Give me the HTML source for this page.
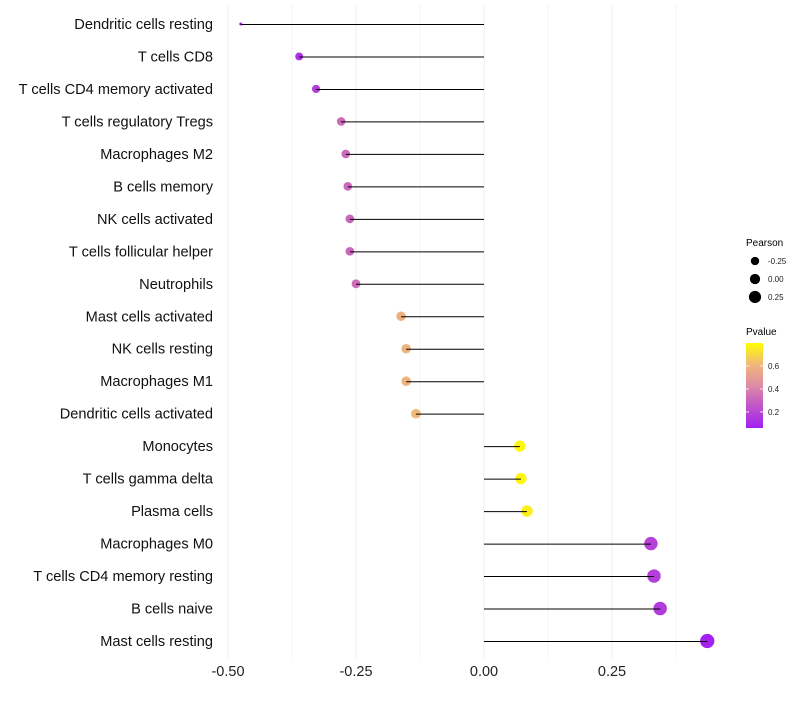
<!DOCTYPE html>
<html><head><meta charset="utf-8"><style>
body{margin:0;background:#fff;font-family:"Liberation Sans",sans-serif;}
</style></head><body>
<svg id="c" width="800" height="700" xmlns="http://www.w3.org/2000/svg"></svg>
<script>
const categories=["Dendritic cells resting","T cells CD8","T cells CD4 memory activated","T cells regulatory  Tregs ","Macrophages M2","B cells memory","NK cells activated","T cells follicular helper","Neutrophils","Mast cells activated","NK cells resting","Macrophages M1","Dendritic cells activated","Monocytes","T cells gamma delta","Plasma cells","Macrophages M0","T cells CD4 memory resting","B cells naive","Mast cells resting"];
const pearson=[-0.475,-0.361,-0.328,-0.279,-0.270,-0.266,-0.262,-0.262,-0.250,-0.162,-0.152,-0.152,-0.133,0.070,0.072,0.084,0.326,0.332,0.344,0.436];
const pvalue=[0.04,0.12,0.17,0.32,0.32,0.31,0.31,0.31,0.33,0.58,0.6,0.6,0.62,0.78,0.78,0.76,0.18,0.17,0.16,0.07];
const xTicks=[-0.5,-0.25,0,0.25];
const xTickLabels=["-0.50","-0.25","0.00","0.25"];
const legendSizes=[-0.25,0,0.25];
const legendSizeLabels=["-0.25","0.00","0.25"];
const pTicks=[0.2,0.4,0.6];
const pTickLabels=["0.2","0.4","0.6"];

const NS="http://www.w3.org/2000/svg",svg=document.getElementById('c');
const x=v=>484+v*512;
const y=i=>24+i*(617/19);
const r=p=>p<-0.45?1.5:5.4+4.0*p;
const stops=[[0.06,[162,30,242]],[0.3,[200,100,190]],[0.45,[225,145,160]],[0.62,[240,185,120]],[0.8,[255,255,0]]];
function col(p){if(p<=stops[0][0])return 'rgb('+stops[0][1]+')';for(let k=1;k<stops.length;k++){if(p<=stops[k][0]){const a=stops[k-1],b=stops[k],t=(p-a[0])/(b[0]-a[0]);return 'rgb('+a[1].map((c,j)=>Math.round(c+(b[1][j]-c)*t)).join(',')+')';}}return 'rgb(255,255,0)';}
const py=p=>428-(p-0.06)/0.74*85;
function el(t,a,txt){const e=document.createElementNS(NS,t);for(const k in a)e.setAttribute(k,a[k]);if(txt!=null)e.textContent=txt;svg.appendChild(e);return e;}
[-0.5,-0.375,-0.25,-0.125,0,0.125,0.25,0.375].forEach(v=>{const g=el('line',{x1:x(v),x2:x(v),y1:5,y2:658,stroke:'#ececec','stroke-width':Number.isInteger(v*4)?1:0.6});

});
xTicks.forEach((v,i)=>{const t=el('text',{x:x(v),y:676,'font-size':14.5,'text-anchor':'middle',fill:'#222'},xTickLabels[i]);

});
categories.forEach((c,i)=>{
const t=el('text',{x:213,y:y(i)+5,'font-size':14.6,'text-anchor':'end',fill:'#111'},c);


const d=el('circle',{cx:x(pearson[i]),cy:y(i),r:r(pearson[i]),fill:col(pvalue[i])});


const l=el('line',{x1:x(0),x2:x(pearson[i]),y1:y(i)+0.5,y2:y(i)+0.5,stroke:'#000','stroke-width':1});


});
const lt=el('text',{x:746,y:246,'font-size':10,fill:'#000'},'Pearson');


legendSizes.forEach((v,i)=>{const cy=261+i*18;
const c=el('circle',{cx:755,cy:cy,r:r(v)*0.95,fill:'#000'});


const t=el('text',{x:768,y:cy+3,'font-size':8,fill:'#222'},legendSizeLabels[i]);

});
const pt=el('text',{x:746,y:335,'font-size':10,fill:'#000'},'Pvalue');


const defs=el('defs',{});const lg=document.createElementNS(NS,'linearGradient');lg.setAttribute('id','g');lg.setAttribute('x1',0);lg.setAttribute('y1',1);lg.setAttribute('x2',0);lg.setAttribute('y2',0);
stops.forEach(s=>{const st=document.createElementNS(NS,'stop');st.setAttribute('offset',(s[0]-0.06)/0.74);st.setAttribute('stop-color','rgb('+s[1]+')');lg.appendChild(st);});defs.appendChild(lg);
const bar=el('rect',{x:746,y:343,width:17,height:85,fill:'url(#g)'});


pTicks.forEach((v,i)=>{el('line',{x1:746,x2:749,y1:py(v),y2:py(v),stroke:'#fff','stroke-width':0.8});el('line',{x1:760,x2:763,y1:py(v),y2:py(v),stroke:'#fff','stroke-width':0.8});
const t=el('text',{x:768,y:py(v)+3,'font-size':8,fill:'#222'},pTickLabels[i]);

});
</script>
</body></html>
